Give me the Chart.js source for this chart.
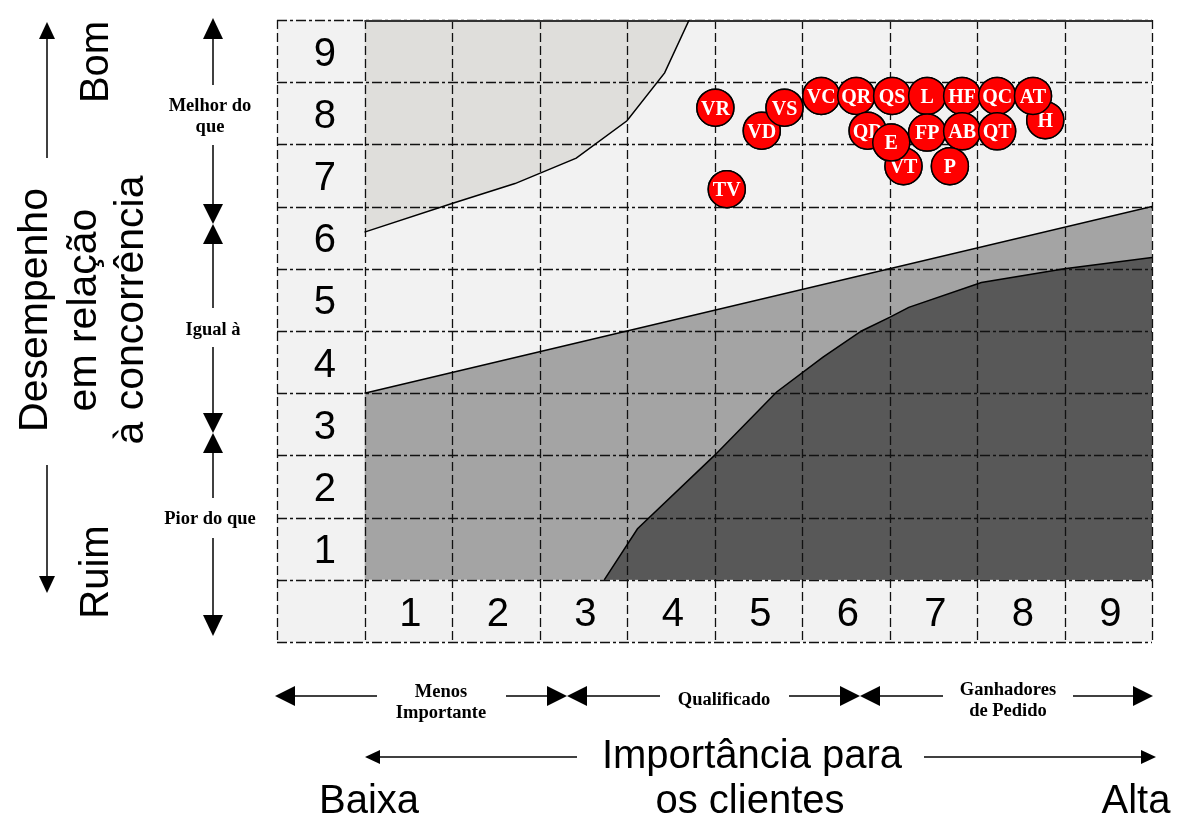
<!DOCTYPE html>
<html><head><meta charset="utf-8">
<script src="https://cdn.jsdelivr.net/npm/chart.js@4.4.1/dist/chart.umd.min.js"></script>
<style>html,body{margin:0;padding:0;background:#fff;}canvas{display:block;}</style>
</head><body>
<canvas id="c" width="1184" height="824"></canvas>
<script>
// ---- data ----
const xTickLabels = ['1','2','3','4','5','6','7','8','9'];
const yTickLabels = ['1','2','3','4','5','6','7','8','9'];
const factorLabels = ['TV','VR','VD','VS','VC','QR','QS','L','HF','QC','H','AT','QD','VT','E','FP','AB','QT','P'];
const importance  = [4.64,4.51,5.04,5.30,5.72,6.12,6.53,6.93,7.33,7.73,8.28,8.14,6.25,6.66,6.52,6.93,7.33,7.73,7.19];
const performance = [6.78,8.09,7.72,8.09,8.28,8.28,8.28,8.28,8.28,8.28,7.89,8.28,7.72,7.15,7.53,7.69,7.71,7.71,7.15];
// zone boundaries (importance, performance)
const superiorX = [0.5,1.5,2.22,2.92,3.5,3.93,4.21];
const superiorY = [6.09,6.55,6.87,7.28,7.88,8.65,9.5];
const qualifierX = [0.5,9.5];
const qualifierY = [3.5,6.5];
const inferiorX = [3.24,3.62,4.5,5.21,5.74,6.18,6.5,6.72,7.55,8.5,9.5];
const inferiorY = [0.5,1.32,2.5,3.52,4.08,4.5,4.72,4.88,5.28,5.5,5.68];

const pts = (xs, ys) => xs.map((x, i) => ({x: x, y: ys[i]}));
const SANS = '"Liberation Sans", Arial, sans-serif';
const SERIF = '"Liberation Serif", "Times New Roman", serif';

function seg(ctx, x1, y1, x2, y2, w) {
  ctx.save(); ctx.lineWidth = w || 1.5; ctx.setLineDash([]);
  ctx.beginPath(); ctx.moveTo(x1, y1); ctx.lineTo(x2, y2); ctx.stroke(); ctx.restore();
}
function head(ctx, x, y, dir, len, hw) {
  ctx.beginPath(); ctx.moveTo(x, y);
  if (dir === 'up') { ctx.lineTo(x - hw, y + len); ctx.lineTo(x + hw, y + len); }
  if (dir === 'down') { ctx.lineTo(x - hw, y - len); ctx.lineTo(x + hw, y - len); }
  if (dir === 'left') { ctx.lineTo(x + len, y - hw); ctx.lineTo(x + len, y + hw); }
  if (dir === 'right') { ctx.lineTo(x - len, y - hw); ctx.lineTo(x - len, y + hw); }
  ctx.closePath(); ctx.fill();
}
function vtext(ctx, t, x, y, font) {
  ctx.save(); ctx.translate(x, y); ctx.rotate(-Math.PI / 2);
  ctx.font = font; ctx.textAlign = 'center'; ctx.textBaseline = 'alphabetic';
  ctx.fillText(t, 0, 0); ctx.restore();
}
function ctext(ctx, t, x, y, font) {
  ctx.font = font; ctx.textAlign = 'center'; ctx.textBaseline = 'middle'; ctx.fillText(t, x, y);
}

function drawGrid(chart) {
  const ctx = chart.ctx, xs = chart.scales.x, ys = chart.scales.y;
  const L = xs.getPixelForValue(-0.5), R = xs.getPixelForValue(9.5);
  const T = ys.getPixelForValue(9.5), B = ys.getPixelForValue(-0.5);
  ctx.save(); ctx.strokeStyle = '#111'; ctx.lineWidth = 1.3;
  ctx.setLineDash([10, 3, 3, 3]);
  for (let k = -0.5; k <= 9.5; k += 1) {
    const y = Math.round(ys.getPixelForValue(k)) + 0.5;
    ctx.beginPath(); ctx.moveTo(L, y); ctx.lineTo(R, y); ctx.stroke();
  }
  ctx.setLineDash([9, 4]);
  for (let k = -0.5; k <= 9.5; k += 1) {
    const x = Math.round(xs.getPixelForValue(k)) + 0.5;
    ctx.beginPath(); ctx.moveTo(x, T); ctx.lineTo(x, B); ctx.stroke();
  }
  ctx.setLineDash([]); ctx.strokeStyle = '#333'; ctx.lineWidth = 2;
  ctx.beginPath(); ctx.moveTo(xs.getPixelForValue(0.5), T + 1); ctx.lineTo(R, T + 1); ctx.stroke();
  ctx.fillStyle = '#000'; ctx.font = '40px ' + SANS; ctx.textAlign = 'center'; ctx.textBaseline = 'alphabetic';
  yTickLabels.forEach((t, i) => ctx.fillText(t, xs.getPixelForValue(0) + 4, ys.getPixelForValue(i + 1) + 14.5));
  xTickLabels.forEach((t, i) => ctx.fillText(t, xs.getPixelForValue(i + 1) + 2, ys.getPixelForValue(0) + 15));
  ctx.restore();
}

function drawBubbles(chart, meta) {
  const ctx = chart.ctx; ctx.save();
  meta.data.forEach((pt, i) => {
    pt.draw(ctx, chart.chartArea);
    ctx.fillStyle = '#fff'; ctx.font = 'bold 20px ' + SERIF;
    ctx.textAlign = 'center'; ctx.textBaseline = 'alphabetic';
    ctx.fillText(factorLabels[i], pt.x, pt.y + 6.8);
  });
  ctx.restore();
}

function drawAnnotations(chart) {
  const ctx = chart.ctx; ctx.save();
  ctx.fillStyle = '#000'; ctx.strokeStyle = '#000';
  // far-left axis
  seg(ctx, 47, 158, 47, 36); head(ctx, 47, 22, 'up', 17, 8);
  seg(ctx, 47, 465, 47, 578); head(ctx, 47, 593, 'down', 17, 8);
  vtext(ctx, 'Bom', 108, 62, '40px ' + SANS);
  vtext(ctx, 'Ruim', 108, 572, '40px ' + SANS);
  vtext(ctx, 'Desempenho', 47, 310, '41px ' + SANS);
  vtext(ctx, 'em relação', 96, 310, '41px ' + SANS);
  vtext(ctx, 'à concorrência', 143, 310, '41px ' + SANS);
  // performance band arrows
  const ax = 213, bf = 'bold 18.5px ' + SERIF;
  head(ctx, ax, 18, 'up', 21, 10); seg(ctx, ax, 38, ax, 85);
  ctext(ctx, 'Melhor do', ax - 3, 106, bf); ctext(ctx, 'que', ax - 3, 127, bf);
  seg(ctx, ax, 145, ax, 206); head(ctx, ax, 224, 'down', 20, 10);
  head(ctx, ax, 224, 'up', 20, 10); seg(ctx, ax, 243, ax, 308);
  ctext(ctx, 'Igual à', ax, 330, bf);
  seg(ctx, ax, 347, ax, 414); head(ctx, ax, 433, 'down', 20, 10);
  head(ctx, ax, 433, 'up', 20, 10); seg(ctx, ax, 452, ax, 498);
  ctext(ctx, 'Pior do que', ax - 3, 519, bf);
  seg(ctx, ax, 538, ax, 616); head(ctx, ax, 636, 'down', 21, 10);
  // importance band arrows
  const ay = 696;
  head(ctx, 275, ay, 'left', 20, 10); seg(ctx, 294, ay, 377, ay);
  ctext(ctx, 'Menos', 441, 692, bf); ctext(ctx, 'Importante', 441, 713, bf);
  seg(ctx, 506, ay, 548, ay); head(ctx, 567, ay, 'right', 20, 10);
  head(ctx, 567, ay, 'left', 20, 10); seg(ctx, 586, ay, 660, ay);
  ctext(ctx, 'Qualificado', 724, 700, bf);
  seg(ctx, 789, ay, 841, ay); head(ctx, 860, ay, 'right', 20, 10);
  head(ctx, 860, ay, 'left', 20, 10); seg(ctx, 879, ay, 943, ay);
  ctext(ctx, 'Ganhadores', 1008, 690, bf); ctext(ctx, 'de Pedido', 1008, 711, bf);
  seg(ctx, 1073, ay, 1134, ay); head(ctx, 1153, ay, 'right', 20, 10);
  // main x title
  const my = 757;
  head(ctx, 365, my, 'left', 15, 7); seg(ctx, 378, my, 577, my);
  seg(ctx, 924, my, 1143, my); head(ctx, 1156, my, 'right', 15, 7);
  ctx.font = '40px ' + SANS; ctx.textAlign = 'center'; ctx.textBaseline = 'alphabetic';
  ctx.fillText('Importância para', 752, 768);
  ctx.fillText('os clientes', 750, 813);
  ctx.fillText('Baixa', 369, 813);
  ctx.fillText('Alta', 1136, 813);
  ctx.restore();
}

const decoPlugin = {
  id: 'deco',
  beforeDraw(chart) {
    const ctx = chart.ctx, a = chart.chartArea;
    ctx.save(); ctx.fillStyle = '#fff'; ctx.fillRect(0, 0, chart.width, chart.height);
    ctx.fillStyle = '#f2f2f2'; ctx.fillRect(a.left, a.top, a.right - a.left, a.bottom - a.top);
    ctx.restore();
  },
  afterDatasetDraw(chart, args) {
    const ds = chart.data.datasets[args.index];
    if (ds.gridAfter) drawGrid(chart);
    if (ds.bubbleLabels) drawBubbles(chart, args.meta);
  },
  afterDraw(chart) { drawAnnotations(chart); }
};

const lineBase = {type: 'line', showLine: true, pointRadius: 0, tension: 0};
new Chart(document.getElementById('c'), {
  type: 'scatter',
  data: {
    datasets: [
      Object.assign({}, lineBase, {label: 'Igual', data: pts(qualifierX, qualifierY), fill: {value: 0.5}, backgroundColor: '#a4a4a4', borderWidth: 0, order: 10}),
      Object.assign({}, lineBase, {label: 'Pior', data: pts(inferiorX, inferiorY), fill: {value: 0.5}, backgroundColor: '#585858', borderWidth: 0, order: 9}),
      Object.assign({}, lineBase, {label: 'Melhor', data: pts(superiorX, superiorY), fill: 'end', backgroundColor: '#dfdedb', borderWidth: 0, order: 8, gridAfter: true}),
      Object.assign({}, lineBase, {label: 'b1', data: pts(qualifierX, qualifierY), fill: false, borderColor: '#000', borderWidth: 1.5, order: 5}),
      Object.assign({}, lineBase, {label: 'b2', data: pts(inferiorX, inferiorY), fill: false, borderColor: '#000', borderWidth: 1.5, order: 5}),
      Object.assign({}, lineBase, {label: 'b3', data: pts(superiorX, superiorY), fill: false, borderColor: '#000', borderWidth: 1.5, order: 5}),
      {label: 'Fatores', data: pts(importance, performance), pointRadius: 18.5, pointHoverRadius: 18.5,
       backgroundColor: '#ff0000', borderColor: '#000', borderWidth: 1.5, order: 0, bubbleLabels: true}
    ]
  },
  options: {
    responsive: false, devicePixelRatio: 1, animation: false,
    layout: {padding: {left: 277, right: 32, top: 16, bottom: 182}},
    scales: {
      x: {type: 'linear', min: -0.5, max: 9.5, display: false},
      y: {type: 'linear', min: -0.5, max: 9.5, display: false}
    },
    plugins: {legend: {display: false}, tooltip: {enabled: false}}
  },
  plugins: [decoPlugin]
});
</script>
</body></html>
